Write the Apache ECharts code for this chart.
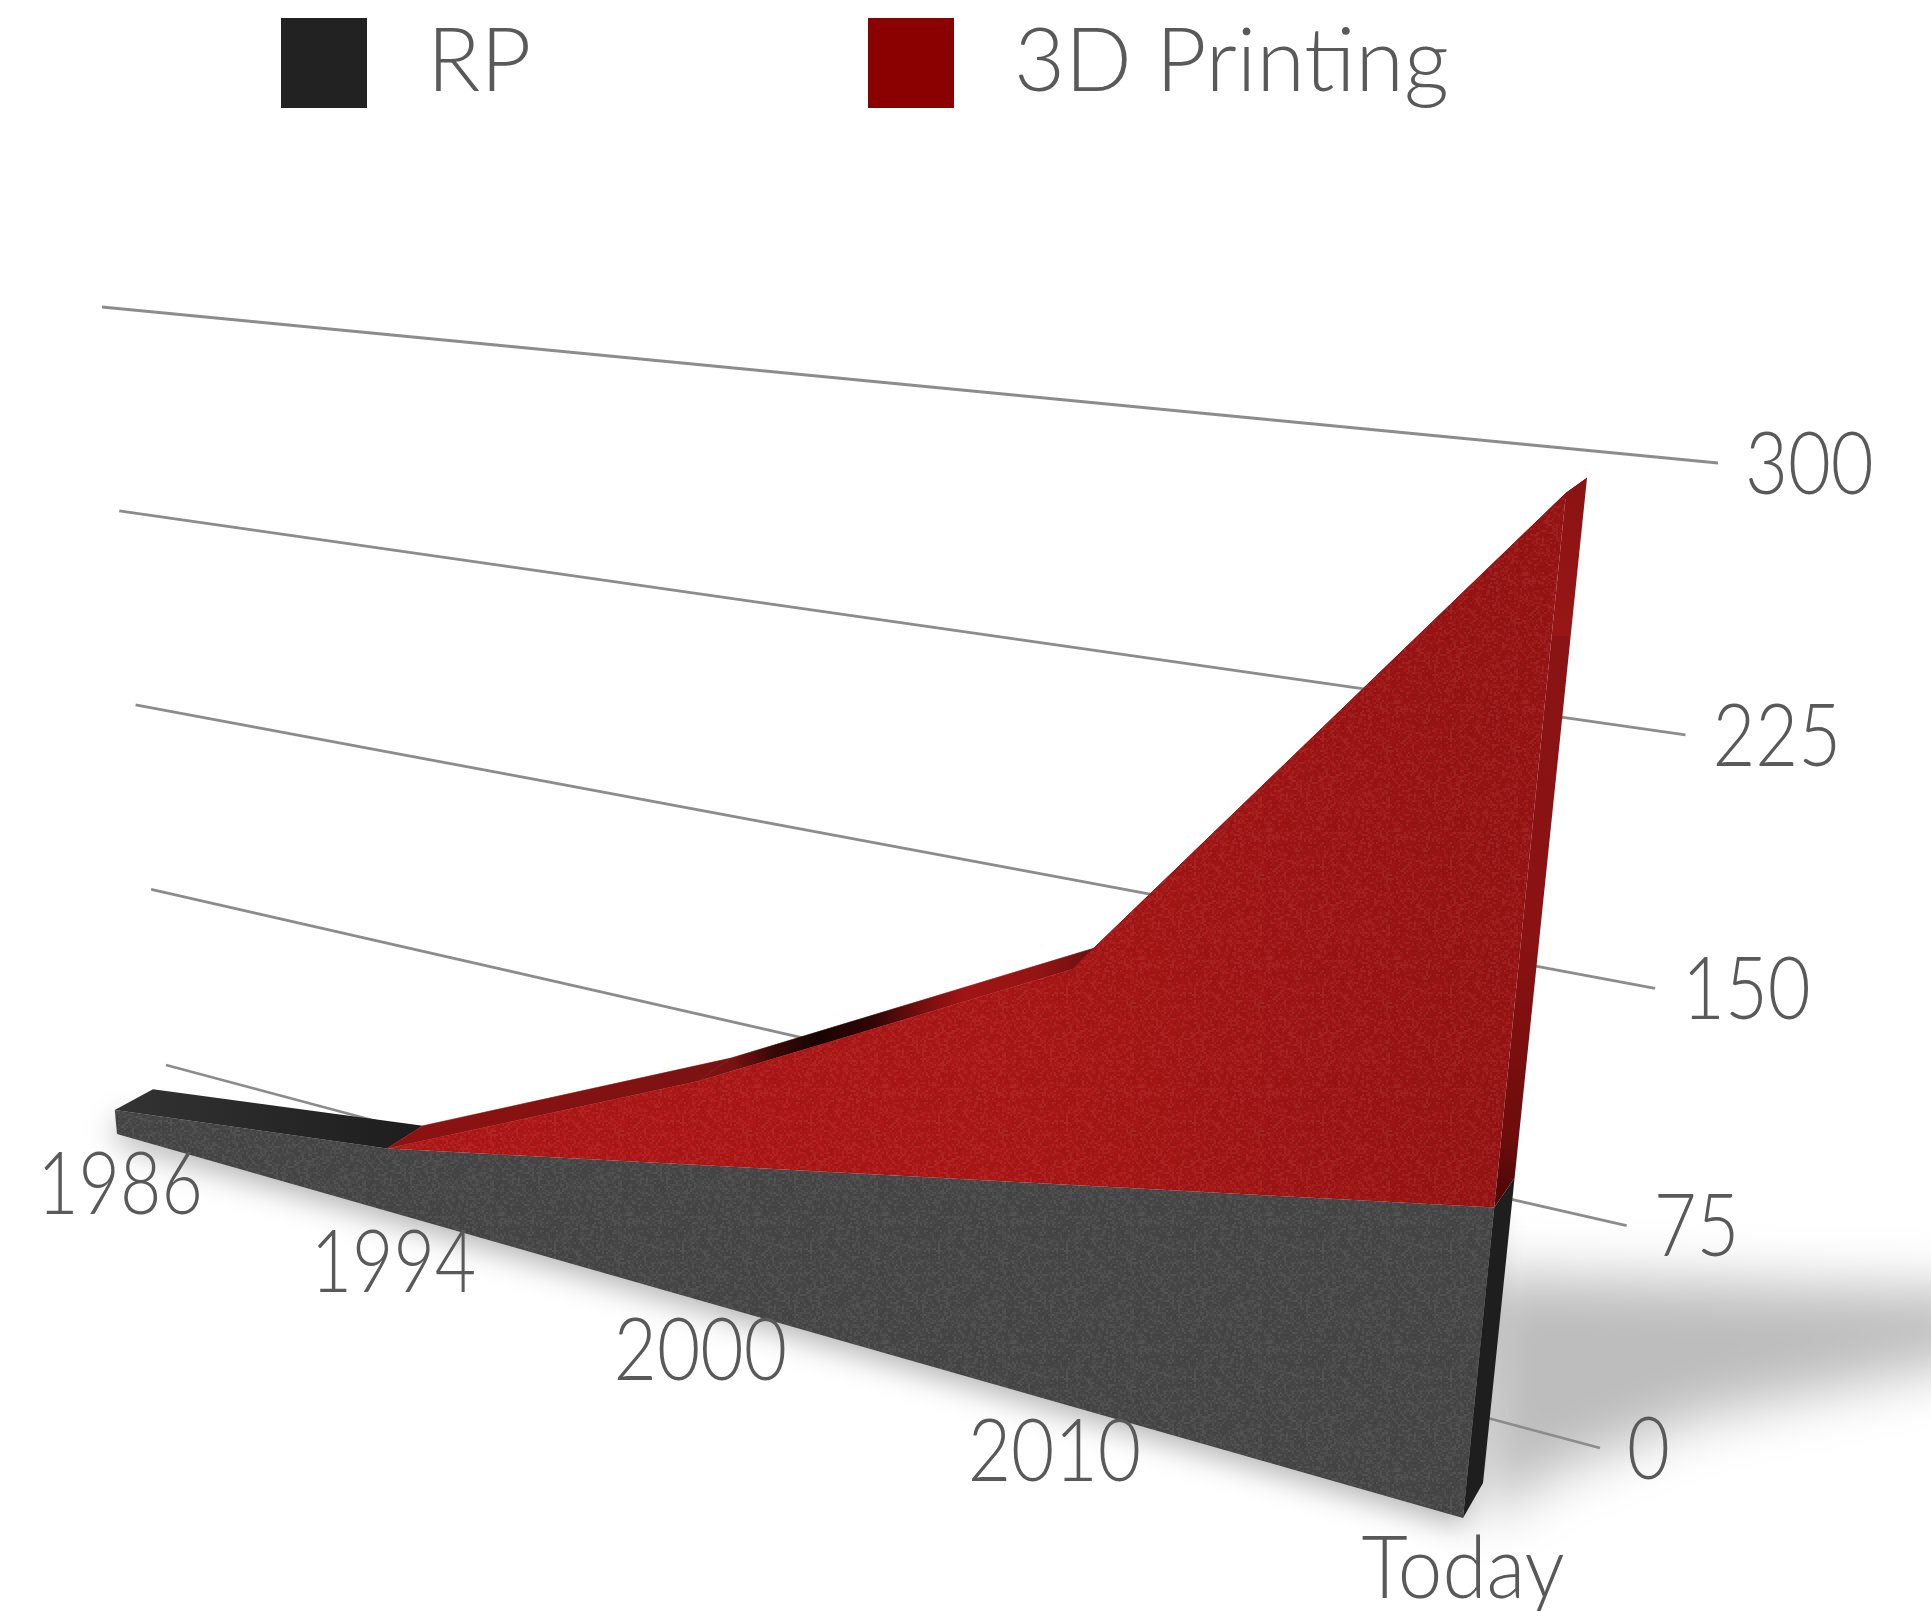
<!DOCTYPE html>
<html><head><meta charset="utf-8">
<style>html,body{margin:0;padding:0;background:#fff}#c{width:1931px;height:1611px}</style>
<script src="https://cdn.jsdelivr.net/npm/echarts@6/dist/echarts.min.js"></script>
</head><body><div id="c"></div>
<script>
// ---- data ----
const categories = ['1986', '1994', '2000', '2010', 'Today'];
const valueTicks = [0, 75, 150, 225, 300];
const rpValues = [10, 25, 50, 75, 100];
const printingValues = [0, 0, 30, 70, 200];

// ---- perspective layout: where the plot rectangle lands on screen, as [bottom-left, bottom-right, top-right, top-left] ----
const frontQuad = [[117,1134],[1463,1518],[1566,493],[43,334]];
const backQuad  = [[155,1113],[1483,1483],[1587,478],[87,325]];
const wallQuad  = [[166,1065],[1600,1448],[1718,463],[102,307]];
const shadowPoly = [[1475,1274],[1990,1292],[1990,1355],[1700,1416],[1550,1474],[1480,1522]];
const categoryScaleX = [0.83, 0.83, 0.87, 0.87, 0.93];
const categoryShiftX = [3, 3, 0, 0, 0];

const textColor = '#595959', fontFamily = 'Lato', fontWeight = 300;
const rpColor = '#222222', printColor = '#8b0000';

const rpTotals = rpValues.slice();
const printTotals = rpValues.map((v, i) => v + printingValues[i]);

function homography(q) {
  const [[x0,y0],[x1,y1],[x2,y2],[x3,y3]] = q;
  const dx1=x1-x2, dx2=x3-x2, sx=x0-x1+x2-x3, dy1=y1-y2, dy2=y3-y2, sy=y0-y1+y2-y3;
  const den=dx1*dy2-dx2*dy1, g=(sx*dy2-dx2*sy)/den, h=(dx1*sy-sx*dy1)/den;
  const a=x1-x0+g*x1, b=x3-x0+h*x3, d=y1-y0+g*y1, e=y3-y0+h*y3;
  return (u,v)=>{const w=g*u+h*v+1; return [(a*u+b*v+x0)/w,(d*u+e*v+y0)/w];};
}
const toFront=homography(frontQuad), toBack=homography(backQuad), toWall=homography(wallQuad);
// plot rectangle coordinates through the hidden axes, then warped into perspective
function warp(api, params, H, i, v) {
  const c = params.coordSys, p = api.coord([i, v]);
  return H((p[0]-c.x)/c.width, (c.y+c.height-p[1])/c.height);
}

// a small fixed grain tile for the rendered surface texture
function grainTile() {
  const cv=document.createElement('canvas'); cv.width=cv.height=128;
  const g=cv.getContext('2d');
  let s=12345;
  for(let y=0;y<128;y+=2)for(let x=0;x<128;x+=2){
    s=(s*1103515245+12345)&0x7fffffff;
    const n=(s>>16)&255;
    g.fillStyle = n>127 ? 'rgba(255,255,255,'+((n-127)/128*0.07).toFixed(3)+')' : 'rgba(0,0,0,'+((127-n)/128*0.07).toFixed(3)+')';
    g.fillRect(x,y,2,2);
  }
  return cv;
}
const grain={image:grainTile(),repeat:'repeat'};

const LG=echarts.graphic.LinearGradient;
function poly(points, fill, extra){return {type:'polygon',silent:true,shape:{points},style:Object.assign({fill},extra||{})};}
function stopsOf(list,x0,x1){return list.map(([x,c])=>({offset:(x-x0)/(x1-x0),color:c}));}

function renderRP(params, api){
  if(params.dataIndex!==0) return null;
  const n=categories.length, f=(i,v)=>warp(api,params,toFront,i,v), b=(i,v)=>warp(api,params,toBack,i,v);
  const frontPts=[];
  for(let i=0;i<n;i++) frontPts.push(f(i,0));
  for(let i=n-1;i>=0;i--) frontPts.push(f(i,rpTotals[i]));
  return {type:'group',children:[
    poly(frontPts,'#474747',{shadowBlur:30,shadowColor:'rgba(0,0,0,0.3)',shadowOffsetY:9}),
    poly(frontPts,grain),
    // top face, first stretch
    poly([f(0,rpTotals[0]),b(0,rpTotals[0]),b(1,rpTotals[1]),f(1,rpTotals[1])],
      new LG(115,0,423,0,[{offset:0,color:'#333333'},{offset:1,color:'#1d1d1d'}],true)),
    // end face
    poly([f(n-1,0),b(n-1,0),b(n-1,rpTotals[n-1]),f(n-1,rpTotals[n-1])],'#1e1e1e')
  ]};
}
function renderPrinting(params, api){
  if(params.dataIndex!==0) return null;
  const n=categories.length, f=(i,v)=>warp(api,params,toFront,i,v), b=(i,v)=>warp(api,params,toBack,i,v);
  const start=1, pts=[], top=[];
  for(let i=start;i<n;i++) pts.push(f(i,rpTotals[i]));
  for(let i=n-1;i>=start;i--) pts.push(f(i,printTotals[i]));
  const a0=f(1,printTotals[1]), a1=b(3,printTotals[3]);
  const ridge=new LG(a0[0],0,a1[0],0,stopsOf([[a0[0],'#8e1212'],[733,'#7a1212'],[772,'#3a0808'],[817,'#1a0303'],[872,'#300606'],[925,'#7a0f0f'],[965,'#a01414'],[1033,'#961414'],[a1[0],'#671010']],a0[0],a1[0]),true);
  for(let i=start;i<n-1;i++)
    top.push(poly([f(i,printTotals[i]),b(i,printTotals[i]),b(i+1,printTotals[i+1]),f(i+1,printTotals[i+1])],ridge,{stroke:ridge,lineWidth:0.6}));
  const e0=f(n-1,rpTotals[n-1]), e1=f(n-1,printTotals[n-1]);
  const side=new LG(0,e1[1],0,e0[1],[{offset:0,color:'#8c1313'},{offset:0.2,color:'#981616'},{offset:0.2,color:'#8a1313'},{offset:0.62,color:'#8a1212'},{offset:0.9,color:'#6e0c0c'},{offset:1,color:'#4a0606'}],true);
  top.push(poly([f(n-2,printTotals[n-2]),f(n-1,printTotals[n-1]),b(n-1,printTotals[n-1]),b(n-2,printTotals[n-2])],'#7a1010'));
  const right=pts[n-2], left=pts[0];
  return {type:'group',children:[
    ...top,
    poly([e0,b(n-1,rpTotals[n-1]),b(n-1,printTotals[n-1]),e1],side),
    poly(pts,new LG(left[0],0,right[0],0,[{offset:0,color:'#b01717'},{offset:0.55,color:'#ab1616'},{offset:1,color:'#981313'}],true)),
    poly(pts,grain)
  ]};
}
function label(x,y,text,scaleX,align){
  return {type:'text',silent:true,x,y,scaleX,style:{text,fontSize:86,fontFamily,fontWeight,fill:textColor,align,verticalAlign:'middle',textAlign:align,textVerticalAlign:'middle'}};
}
function renderValueTick(params, api){
  const v=api.value(1), a=warp(api,params,toWall,0,v), z=warp(api,params,toWall,categories.length-1,v);
  return {type:'group',children:[
    {type:'line',silent:true,shape:{x1:a[0],y1:a[1],x2:z[0],y2:z[1]},style:{stroke:'#8c8c8c',lineWidth:2.8}},
    label(z[0]+27,z[1]+3,String(v),0.86,'left')
  ]};
}
function renderCategoryTick(params, api){
  const i=api.value(0), p=warp(api,params,toFront,i,0);
  return label(p[0]+categoryShiftX[i],p[1]+52,categories[i],categoryScaleX[i],'center');
}

const legendBase={orient:'horizontal',icon:'rect',itemWidth:86,itemHeight:90,top:18,padding:0,selectedMode:false,
  textStyle:{fontSize:88,fontFamily,fontWeight,color:textColor,padding:[7,0,0,55]}};

const chart=echarts.init(document.getElementById('c'),null,{renderer:'canvas'});
// the floor shadow is painted by its blur only: the shape itself sits off the canvas
const shadowShift=3000;
chart.setOption({
  animation:false,
  backgroundColor:'#ffffff',
  grid:{left:0,right:0,top:0,bottom:0},
  xAxis:{type:'category',data:categories,boundaryGap:false,show:false},
  yAxis:{type:'value',min:0,max:300,interval:75,show:false},
  legend:[
    Object.assign({},legendBase,{left:281,data:[{name:'RP',itemStyle:{color:rpColor}}]}),
    Object.assign({},legendBase,{left:868,data:[{name:'3D Printing',itemStyle:{color:printColor}}]})
  ],
  graphic:[{type:'polygon',silent:true,z:0,shape:{points:shadowPoly.map(p=>[p[0]-shadowShift,p[1]])},style:{fill:'#bdbdbd',shadowBlur:56,shadowColor:'#bdbdbd',shadowOffsetX:shadowShift}}],
  series:[
    {type:'custom',name:'Value axis',z:2,silent:true,clip:false,data:valueTicks.map(v=>[0,v]),encode:{x:0,y:1},renderItem:renderValueTick},
    {type:'custom',name:'RP',z:3,silent:true,clip:false,itemStyle:{color:rpColor},data:rpTotals.map((v,i)=>[i,v]),encode:{x:0,y:1},renderItem:renderRP},
    {type:'custom',name:'3D Printing',z:4,silent:true,clip:false,itemStyle:{color:printColor},data:printTotals.map((v,i)=>[i,v]),encode:{x:0,y:1},renderItem:renderPrinting},
    {type:'custom',name:'Category axis',z:5,silent:true,clip:false,data:categories.map((c,i)=>[i,0]),encode:{x:0,y:1},renderItem:renderCategoryTick}
  ]
});
</script></body></html>
